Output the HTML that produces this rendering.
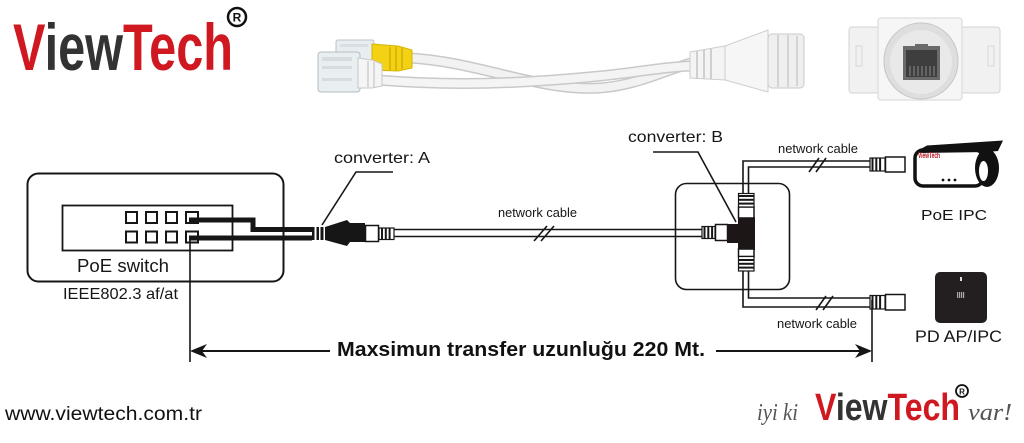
<!DOCTYPE html>
<html><head><meta charset="utf-8"><style>
html,body{margin:0;padding:0;background:#fff;}
svg{display:block;}
</style></head><body>
<svg width="1024" height="443" viewBox="0 0 1024 443" xmlns="http://www.w3.org/2000/svg">
<rect width="1024" height="443" fill="#fff"/>

<!-- Top logo -->
<text x="13" y="70" font-family="Liberation Sans, sans-serif" font-weight="bold" font-size="66" textLength="220" lengthAdjust="spacingAndGlyphs"><tspan fill="#cf1820">V</tspan><tspan fill="#333">iew</tspan><tspan fill="#cf1820">Tech</tspan></text>
<circle cx="237" cy="17" r="9" fill="#fff" stroke="#111" stroke-width="2.5"/>
<text x="237" y="21.5" font-family="Liberation Sans, sans-serif" font-weight="bold" font-size="12" text-anchor="middle" fill="#111">R</text>

<!-- Product photo: cable -->
<g>
  <path d="M410 58 C 480 62, 540 92, 600 88 C 640 85, 670 68, 695 62" fill="none" stroke="#c9c9c9" stroke-width="11"/>
  <path d="M410 58 C 480 62, 540 92, 600 88 C 640 85, 670 68, 695 62" fill="none" stroke="#f2f2f2" stroke-width="8"/>
  <path d="M378 80 C 450 86, 520 84, 600 76 C 640 72, 670 66, 695 66" fill="none" stroke="#c9c9c9" stroke-width="11"/>
  <path d="M378 80 C 450 86, 520 84, 600 76 C 640 72, 670 66, 695 66" fill="none" stroke="#f4f4f4" stroke-width="8"/>
  <!-- back plug + yellow boot -->
  <rect x="336" y="40" width="38" height="26" rx="2" fill="#e7edf0" stroke="#b8c3c9"/>
  <rect x="340" y="44" width="28" height="3" fill="#d7dfe3"/>
  <path d="M372 44 L398 46 L412 50 L412 68 L398 71 L372 70 Z" fill="#f3d215" stroke="#d7b300"/>
  <line x1="390" y1="47" x2="390" y2="70" stroke="#d3ae00" stroke-width="1.5"/>
  <line x1="396" y1="47" x2="396" y2="70" stroke="#d3ae00" stroke-width="1.5"/>
  <line x1="402" y1="48" x2="402" y2="69" stroke="#d3ae00" stroke-width="1.5"/>
  <!-- front plug -->
  <rect x="318" y="52" width="42" height="40" rx="3" fill="#e9eef1" stroke="#b3bec4"/>
  <rect x="322" y="57" width="30" height="4" fill="#d6dde1"/>
  <rect x="322" y="66" width="30" height="3" fill="#d6dde1"/>
  <rect x="322" y="78" width="30" height="3" fill="#d6dde1"/>
  <path d="M358 58 L372 60 L382 64 L382 86 L372 88 L358 88 Z" fill="#f5f5f5" stroke="#c8c8c8"/>
  <line x1="368" y1="61" x2="368" y2="87" stroke="#cfcfcf" stroke-width="1.5"/>
  <line x1="374" y1="62" x2="374" y2="87" stroke="#cfcfcf" stroke-width="1.5"/>
  <!-- coupler -->
  <path d="M690 52 L725 46 L725 80 L690 78 Z" fill="#f4f4f4" stroke="#cdcdcd"/>
  <line x1="697" y1="51" x2="697" y2="79" stroke="#cfcfcf" stroke-width="2"/>
  <line x1="704" y1="50" x2="704" y2="79" stroke="#cfcfcf" stroke-width="2"/>
  <line x1="711" y1="49" x2="711" y2="79" stroke="#cfcfcf" stroke-width="2"/>
  <path d="M725 46 L768 30 L768 92 L725 80 Z" fill="#f6f6f6" stroke="#cdcdcd"/>
  <rect x="768" y="34" width="36" height="54" rx="4" fill="#efefef" stroke="#cacaca"/>
  <line x1="778" y1="35" x2="778" y2="87" stroke="#d4d4d4" stroke-width="2"/>
  <line x1="788" y1="35" x2="788" y2="87" stroke="#d4d4d4" stroke-width="2"/>
  <line x1="797" y1="36" x2="797" y2="86" stroke="#d4d4d4" stroke-width="2"/>
</g>

<!-- Product photo: module -->
<g>
  <rect x="849" y="27" width="36" height="66" rx="3" fill="#f1f1f1" stroke="#d3d3d3"/>
  <rect x="957" y="27" width="43" height="66" rx="3" fill="#f1f1f1" stroke="#d3d3d3"/>
  <rect x="856" y="46" width="6" height="20" fill="none" stroke="#d8d8d8"/>
  <rect x="988" y="46" width="6" height="20" fill="none" stroke="#d8d8d8"/>
  <rect x="878" y="18" width="84" height="82" rx="3" fill="#f6f6f6" stroke="#d6d6d6"/>
  <ellipse cx="921" cy="61" rx="37" ry="38" fill="#dedede" stroke="#c6c6c6"/>
  <ellipse cx="921" cy="62" rx="31" ry="32" fill="#e9e9e9"/>
  <rect x="903" y="46" width="37" height="34" fill="#6a6a6a"/>
  <rect x="906" y="50" width="31" height="27" fill="#3e3e3e"/>
  <rect x="915" y="44" width="13" height="5" fill="#6a6a6a"/>
  <g stroke="#8a8a8a" stroke-width="1">
    <line x1="910" y1="66" x2="910" y2="76"/><line x1="914" y1="66" x2="914" y2="76"/><line x1="918" y1="66" x2="918" y2="76"/><line x1="922" y1="66" x2="922" y2="76"/><line x1="926" y1="66" x2="926" y2="76"/><line x1="930" y1="66" x2="930" y2="76"/><line x1="934" y1="66" x2="934" y2="76"/>
  </g>
</g>

<!-- PoE switch -->
<g fill="none" stroke="#161616">
  <rect x="27.5" y="173.5" width="256" height="108" rx="11" stroke-width="2"/>
  <rect x="62.5" y="205.5" width="170" height="45" stroke-width="1.8"/>
  <g stroke-width="2">
    <rect x="126" y="212" width="11" height="11"/><rect x="146" y="212" width="11" height="11"/><rect x="166" y="212" width="11" height="11"/><rect x="186" y="212" width="12" height="11"/>
    <rect x="126" y="231.5" width="11" height="11"/><rect x="146" y="231.5" width="11" height="11"/><rect x="166" y="231.5" width="11" height="11"/><rect x="186" y="231.5" width="12" height="11"/>
  </g>
</g>
<g font-family="Liberation Sans, sans-serif" fill="#161616">
  <text x="77" y="272" font-size="18" textLength="92" lengthAdjust="spacingAndGlyphs">PoE switch</text>
  <text x="63" y="299" font-size="16" textLength="115" lengthAdjust="spacingAndGlyphs">IEEE802.3 af/at</text>
</g>

<!-- Cables from switch -->
<polyline points="189,220 253,220 253,229.5 312,229.5" fill="none" stroke="#161616" stroke-width="5"/>
<line x1="189" y1="238" x2="312" y2="238" stroke="#161616" stroke-width="5"/>

<!-- Converter A -->
<g fill="#161616">
  <rect x="312" y="227" width="2.5" height="13"/>
  <rect x="316.5" y="227" width="2.5" height="13"/>
  <rect x="320.5" y="227" width="3" height="13"/>
  <polygon points="325,227 347,220 350,223 365,223 365,242 350,242 347,246 325,240"/>
</g>
<rect x="365.5" y="225.5" width="13" height="16" fill="#fff" stroke="#161616" stroke-width="1.5"/>
<rect x="379" y="228" width="15" height="11.5" fill="#fff" stroke="#161616" stroke-width="1.2"/>
<g fill="#161616"><rect x="381" y="228" width="2" height="11.5"/><rect x="384.8" y="228" width="2" height="11.5"/><rect x="388.6" y="228" width="2" height="11.5"/></g>

<!-- Middle cable -->
<g stroke="#161616" stroke-width="1.6">
  <line x1="394" y1="229.5" x2="702" y2="229.5"/>
  <line x1="394" y1="236.5" x2="702" y2="236.5"/>
  <line x1="534" y1="241" x2="547" y2="226"/>
  <line x1="541" y1="241" x2="554" y2="226"/>
</g>
<text x="498" y="217" font-family="Liberation Sans, sans-serif" font-size="12.5" fill="#161616" textLength="79" lengthAdjust="spacingAndGlyphs">network cable</text>

<!-- converter A label -->
<text x="334" y="163" font-family="Liberation Sans, sans-serif" font-size="16" fill="#161616" textLength="96" lengthAdjust="spacingAndGlyphs">converter: A</text>
<polyline points="393,172 356,172 322,225" fill="none" stroke="#161616" stroke-width="1.6"/>

<!-- Box B -->
<rect x="675.5" y="183.5" width="114" height="106" rx="11" fill="none" stroke="#161616" stroke-width="1.6"/>

<!-- connector into T -->
<rect x="702" y="226.5" width="13" height="12" fill="#fff" stroke="#161616" stroke-width="1.2"/>
<g fill="#161616"><rect x="703.5" y="226.5" width="2" height="12"/><rect x="707.3" y="226.5" width="2" height="12"/><rect x="711.1" y="226.5" width="2" height="12"/></g>
<rect x="715.5" y="224.5" width="12" height="16" fill="#fff" stroke="#161616" stroke-width="1.5"/>

<!-- T body -->
<rect x="727" y="224" width="28" height="19" fill="#1c1616"/>
<rect x="738" y="217" width="17" height="33" fill="#1c1616"/>

<!-- T upper connector -->
<rect x="738.5" y="207" width="15.5" height="11" fill="#fff" stroke="#161616" stroke-width="1.5"/>
<rect x="738.5" y="193.5" width="15.5" height="13.5" fill="#fff" stroke="#161616" stroke-width="1.2"/>
<g fill="#161616"><rect x="738.5" y="195" width="15.5" height="2"/><rect x="738.5" y="198.8" width="15.5" height="2"/><rect x="738.5" y="202.6" width="15.5" height="2"/></g>
<!-- T lower connector -->
<rect x="738.5" y="249" width="15.5" height="7.5" fill="#fff" stroke="#161616" stroke-width="1.5"/>
<rect x="738.5" y="256.5" width="15.5" height="14.5" fill="#fff" stroke="#161616" stroke-width="1.2"/>
<g fill="#161616"><rect x="738.5" y="259" width="15.5" height="2"/><rect x="738.5" y="262.8" width="15.5" height="2"/><rect x="738.5" y="266.6" width="15.5" height="2"/></g>

<!-- Top right cable -->
<g fill="none" stroke="#161616" stroke-width="1.6">
  <polyline points="743,193.5 743,161 870,161"/>
  <polyline points="748.5,193.5 748.5,167 870,167"/>
  <polyline points="748.5,271 748.5,298 870,298"/>
  <polyline points="743,271 743,307 870,307"/>
  <line x1="809" y1="172" x2="819" y2="158"/>
  <line x1="816" y1="172" x2="826" y2="158"/>
  <line x1="816" y1="310" x2="826" y2="296"/>
  <line x1="823" y1="310" x2="833" y2="296"/>
</g>
<!-- top right connector -->
<rect x="870" y="158" width="15" height="13" fill="#fff" stroke="#161616" stroke-width="1.2"/>
<g fill="#161616"><rect x="871.5" y="158" width="2" height="13"/><rect x="875.3" y="158" width="2" height="13"/><rect x="879.1" y="158" width="2" height="13"/></g>
<rect x="885.5" y="157" width="19.5" height="15" fill="#fff" stroke="#161616" stroke-width="1.5"/>
<!-- bottom right connector -->
<rect x="870" y="295.5" width="15" height="13.5" fill="#fff" stroke="#161616" stroke-width="1.2"/>
<g fill="#161616"><rect x="871.5" y="295.5" width="2" height="13.5"/><rect x="875.3" y="295.5" width="2" height="13.5"/><rect x="879.1" y="295.5" width="2" height="13.5"/></g>
<rect x="885.5" y="294.5" width="19.5" height="15.5" fill="#fff" stroke="#161616" stroke-width="1.5"/>

<g font-family="Liberation Sans, sans-serif" fill="#161616">
  <text x="628" y="142" font-size="16" textLength="95" lengthAdjust="spacingAndGlyphs">converter: B</text>
  <text x="778" y="153" font-size="12.5" textLength="80" lengthAdjust="spacingAndGlyphs">network cable</text>
  <text x="777" y="328" font-size="12.5" textLength="80" lengthAdjust="spacingAndGlyphs">network cable</text>
  <text x="921" y="220" font-size="15" textLength="66" lengthAdjust="spacingAndGlyphs">PoE IPC</text>
  <text x="915" y="342" font-size="17" textLength="87" lengthAdjust="spacingAndGlyphs">PD AP/IPC</text>
</g>
<polyline points="653,152 698,152 736,222" fill="none" stroke="#161616" stroke-width="1.6"/>

<!-- Camera -->
<g>
  <rect x="915" y="150" width="68" height="36" rx="8" fill="#fff" stroke="#111" stroke-width="3.5"/>
  <polygon points="917,151 927,145.5 1003,140.5 998,151 988,152 920,153" fill="#111"/>
  <ellipse cx="987" cy="168" rx="12" ry="19" fill="#111"/>
  <ellipse cx="983.5" cy="171" rx="4.5" ry="10" fill="#fff"/>
  <text x="918" y="158" font-family="Liberation Sans, sans-serif" font-weight="bold" font-size="8" fill="#b5121b" textLength="22" lengthAdjust="spacingAndGlyphs">ViewTech</text>
  <circle cx="943" cy="180" r="1.4" fill="#111"/><circle cx="949" cy="180" r="1.4" fill="#111"/><circle cx="955" cy="180" r="1.4" fill="#111"/>
</g>

<!-- AP device -->
<rect x="935" y="272" width="52" height="51" rx="5" fill="#231f20"/>
<rect x="960" y="277" width="2" height="4" fill="#ddd"/>
<g fill="#aaa"><rect x="957" y="292" width="1.2" height="6"/><rect x="959" y="292" width="1.2" height="6"/><rect x="961" y="292" width="1.2" height="6"/><rect x="963" y="292" width="1.2" height="6"/></g>

<!-- Dimension -->
<g stroke="#161616" stroke-width="1.6">
  <line x1="190" y1="240" x2="190" y2="362"/>
  <line x1="872" y1="300" x2="872" y2="362"/>
  <line x1="194" y1="351" x2="330" y2="351" stroke-width="2"/>
  <line x1="716" y1="351" x2="866" y2="351" stroke-width="2"/>
</g>
<polygon points="190,351 207,344 202,351 207,358" fill="#161616"/>
<polygon points="872,351 855,344 860,351 855,358" fill="#161616"/>
<text x="337" y="356" font-family="Liberation Sans, sans-serif" font-weight="bold" font-size="20" fill="#111" textLength="368" lengthAdjust="spacingAndGlyphs">Maxsimun transfer uzunluğu 220 Mt.</text>

<!-- URL -->
<text x="5" y="420" font-family="Liberation Sans, sans-serif" font-size="19" fill="#111" textLength="197" lengthAdjust="spacingAndGlyphs">www.viewtech.com.tr</text>

<!-- Bottom logo -->
<text x="757" y="420" font-family="Liberation Serif, serif" font-style="italic" font-size="24" fill="#555" textLength="41" lengthAdjust="spacingAndGlyphs">iyi ki</text>
<text x="815" y="420" font-family="Liberation Sans, sans-serif" font-weight="bold" font-size="38" textLength="145" lengthAdjust="spacingAndGlyphs"><tspan fill="#cf1820">V</tspan><tspan fill="#333">iew</tspan><tspan fill="#cf1820">Tech</tspan></text>
<circle cx="962" cy="391" r="6" fill="#fff" stroke="#111" stroke-width="1.8"/>
<text x="962" y="394.5" font-family="Liberation Sans, sans-serif" font-weight="bold" font-size="8" text-anchor="middle" fill="#111">R</text>
<text x="968" y="420" font-family="Liberation Serif, serif" font-style="italic" font-size="24" fill="#555" textLength="44" lengthAdjust="spacingAndGlyphs">var!</text>
</svg>
</body></html>
